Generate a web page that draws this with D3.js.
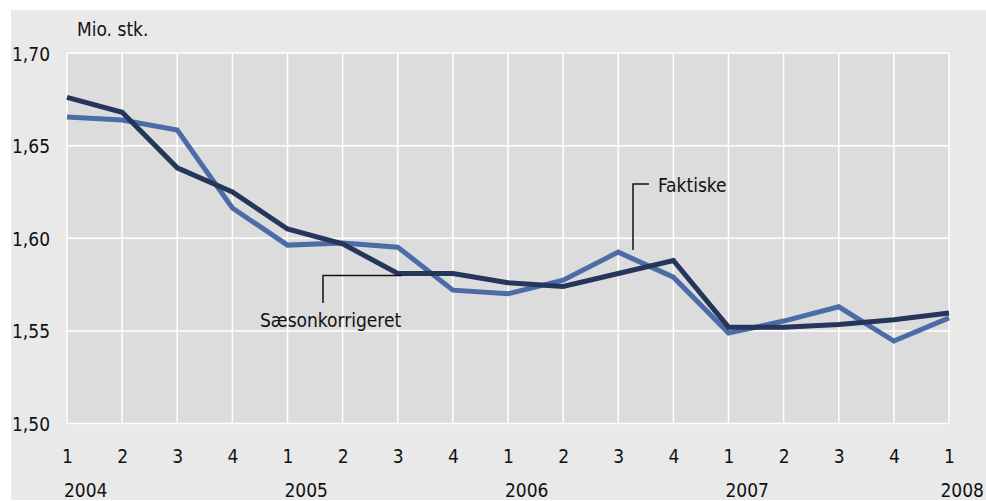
<!DOCTYPE html>
<html>
<head>
<meta charset="utf-8">
<script src="https://cdn.jsdelivr.net/npm/d3@7"></script>
<style>
  body { margin: 0; background: #fff; }
  svg text { font-family: "DejaVu Sans Condensed", "DejaVu Sans", sans-serif; fill: #111; }
  .axis path, .axis line { display: none; }
</style>
</head>
<body>
<div id="chart"></div>
<script>
// quarters 2004Q1 .. 2008Q1
var quarters = ["1","2","3","4","1","2","3","4","1","2","3","4","1","2","3","4","1"];
var years = [{i: 0, label: "2004"}, {i: 4, label: "2005"}, {i: 8, label: "2006"}, {i: 12, label: "2007"}, {i: 16, label: "2008"}];
var saesonkorrigeret = [1.676, 1.668, 1.638, 1.625, 1.605, 1.597, 1.581, 1.581, 1.576, 1.574, 1.581, 1.588, 1.552, 1.552, 1.5535, 1.556, 1.5596];
var faktiske = [1.6654, 1.6638, 1.6584, 1.6163, 1.5963, 1.5974, 1.5952, 1.572, 1.570, 1.5774, 1.5925, 1.579, 1.5488, 1.5553, 1.563, 1.5445, 1.557];
var yTicks = [1.50, 1.55, 1.60, 1.65, 1.70];

function drawChart(){
    var width = 986,
        height = 501,
        left = 67, right = 949, top = 53, bottom = 423.5,
        fs = "19px",
        fmt = function(d){ return d3.format(".2f")(d).replace(".", ","); };

    var svg = d3.select("#chart").append("svg")
        .attr("width", width)
        .attr("height", height);

    svg.append("rect")
        .attr("x", 11).attr("y", 10)
        .attr("width", width - 11).attr("height", 490)
        .attr("fill", "#e9e9e9");

    var x = d3.scaleLinear().domain([0, quarters.length - 1]).range([left, right]);
    var y = d3.scaleLinear().domain([1.50, 1.70]).range([bottom, top]);

    svg.append("rect")
        .attr("x", left).attr("y", top)
        .attr("width", right - left).attr("height", bottom - top)
        .attr("fill", "#dcdcdc");

    // grid
    svg.append("g").selectAll("line").data(d3.range(quarters.length)).join("line")
        .attr("x1", d => x(d)).attr("x2", d => x(d))
        .attr("y1", top).attr("y2", bottom)
        .attr("stroke", "#fff").attr("stroke-width", 1.5);
    svg.append("g").selectAll("line").data(yTicks).join("line")
        .attr("x1", left).attr("x2", right)
        .attr("y1", d => y(d)).attr("y2", d => y(d))
        .attr("stroke", "#fff").attr("stroke-width", 1.5);

    // axes
    var yAxis = svg.append("g").attr("class", "axis")
        .attr("transform", "translate(" + (left - 17) + ",1)")
        .call(d3.axisLeft(y).tickValues(yTicks).tickFormat(fmt).tickSize(0).tickPadding(0));
    yAxis.selectAll("text").style("font-size", fs);

    var xAxis = svg.append("g").attr("class", "axis")
        .attr("transform", "translate(0," + (bottom + 25.5) + ")")
        .call(d3.axisBottom(x).tickValues(d3.range(quarters.length)).tickFormat(i => quarters[i]).tickSize(0).tickPadding(0));
    xAxis.selectAll("text").style("font-size", fs);

    svg.append("g").selectAll("text").data(years).join("text")
        .attr("x", (d, k) => k === years.length - 1 ? width - 2 : x(d.i) - 3)
        .attr("text-anchor", (d, k) => k === years.length - 1 ? "end" : "start")
        .attr("y", 497)
        .style("font-size", fs)
        .text(d => d.label);

    svg.append("text")
        .attr("x", 77).attr("y", 36)
        .style("font-size", fs)
        .text("Mio. stk.");

    // lines
    var line = d3.line().x((d, i) => x(i)).y(d => y(d));

    svg.append("path").datum(faktiske)
        .attr("d", line)
        .attr("fill", "none")
        .attr("stroke", "#4b6ca7")
        .attr("stroke-width", 5)
        .attr("stroke-linejoin", "miter");

    svg.append("path").datum(saesonkorrigeret)
        .attr("d", line)
        .attr("fill", "none")
        .attr("stroke", "#24365a")
        .attr("stroke-width", 5)
        .attr("stroke-linejoin", "miter");

    // callouts
    var sx = x(6), sy = y(saesonkorrigeret[6]);
    svg.append("path")
        .attr("d", "M" + (sx + 4) + "," + (sy + 2) + "H323V303")
        .attr("fill", "none").attr("stroke", "#111").attr("stroke-width", 1.5);
    svg.append("text")
        .attr("x", 260).attr("y", 327)
        .style("font-size", fs)
        .text("Sæsonkorrigeret");

    svg.append("path")
        .attr("d", "M649,184H633V250")
        .attr("fill", "none").attr("stroke", "#111").attr("stroke-width", 1.5);
    svg.append("text")
        .attr("x", 658).attr("y", 192)
        .style("font-size", fs)
        .text("Faktiske");
}

drawChart();
</script>
</body>
</html>
